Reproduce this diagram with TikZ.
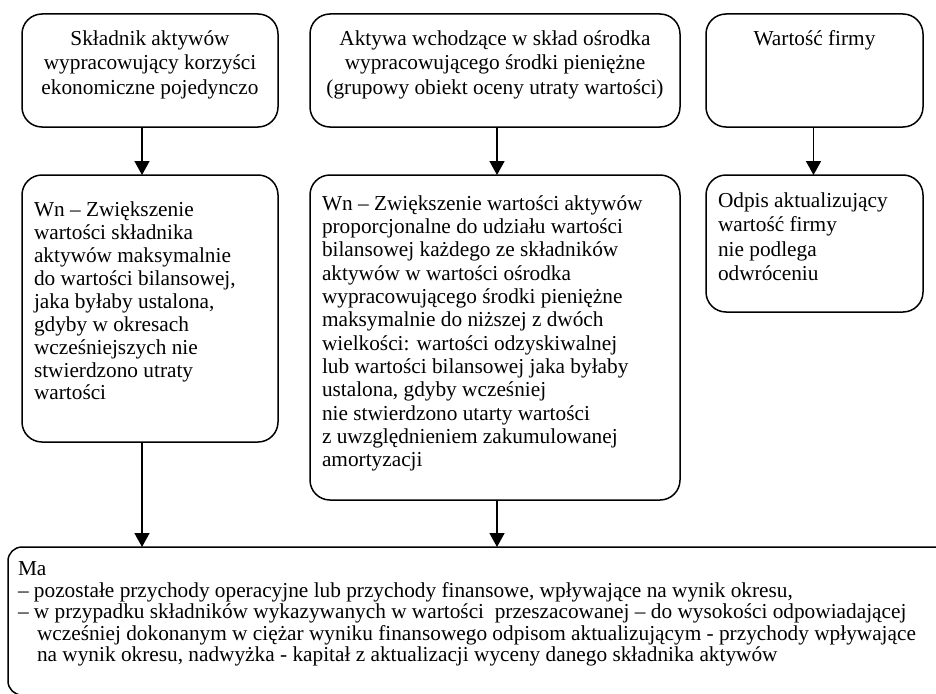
\documentclass[tikz,border=0pt]{standalone}
\usepackage{fontspec}
\setmainfont{Liberation Serif}
\usetikzlibrary{arrows.meta}

\tikzset{
  blok/.style={draw, line width=1.5pt, rounded corners=20pt, anchor=north west,
    inner xsep=12pt, inner ysep=0pt, outer sep=0pt,
    font=\fontsize{21.3}{24.5}\selectfont},
  strzalka/.style={line width=1.6pt, -{Triangle[length=14pt,width=15pt]}}
}

\begin{document}
\begin{tikzpicture}[x=1pt, y=-1pt]
            \useasboundingbox (0,0) rectangle (936,693);
            \clip (0,0) rectangle (936,693);

            % gorny rzad
            \node [blok] (skladnik) at (22, 14)
                {\parbox[t][113pt][t]{232pt}{\vspace*{16.5pt}\centering
                 Składnik aktywów\\ wypracowujący korzyści\\ ekonomiczne pojedynczo}};
            \node [blok] (osrodek) at (310, 14)
                {\parbox[t][113pt][t]{346pt}{\vspace*{16.5pt}\centering
                 Aktywa wchodzące w skład ośrodka\\ wypracowującego środki pieniężne\\
                 (grupowy obiekt oceny utraty wartości)}};
            \node [blok] (firma) at (706, 14)
                {\parbox[t][113pt][t]{193pt}{\vspace*{16.5pt}\centering Wartość firmy}};

            % srodkowy rzad
            \node [blok, font=\fontsize{21.3}{22.9}\selectfont] (wnA) at (22, 175)
                {\parbox[t][267pt][t]{232pt}{\vspace*{27pt}\raggedright
                 Wn – Zwiększenie\\ wartości składnika\\ aktywów maksymalnie\\
                 do wartości bilansowej,\\ jaka byłaby ustalona,\\ gdyby w okresach\\
                 wcześniejszych nie\\ stwierdzono utraty\\ wartości}};
            \node [blok, font=\fontsize{21.3}{23.3}\selectfont] (wnB) at (310, 175)
                {\parbox[t][325pt][t]{346pt}{\vspace*{20.5pt}\raggedright
                 Wn – Zwiększenie wartości aktywów\\ proporcjonalne do udziału wartości\\
                 bilansowej każdego ze składników\\ aktywów w wartości ośrodka\\
                 wypracowującego środki pieniężne\\ maksymalnie do niższej z dwóch\\
                 wielkości: wartości odzyskiwalnej\\ lub wartości bilansowej jaka byłaby\\
                 ustalona, gdyby wcześniej\\ nie stwierdzono utarty wartości\\
                 z uwzględnieniem zakumulowanej\\ amortyzacji}};
            \node [blok, font=\fontsize{21.3}{24.4}\selectfont] (odpis) at (706, 175)
                {\parbox[t][137pt][t]{193pt}{\vspace*{17.5pt}\raggedright
                 Odpis aktualizujący\\ wartość firmy\\ nie podlega\\ odwróceniu}};

            % dolny blok
            \node [blok, rounded corners=14pt, inner xsep=10pt,
                   font=\fontsize{21.3}{21.6}\selectfont] (ma) at (8, 547)
                {\parbox[t][148pt][t]{922pt}{\vspace*{14.5pt}\raggedright
                 Ma\\
                 – pozostałe przychody operacyjne lub przychody finansowe, wpływające na wynik okresu,\\
                 – w przypadku składników wykazywanych w wartości\ \ przeszacowanej – do wysokości odpowiadającej\\
                 \hspace*{19pt}wcześniej dokonanym w ciężar wyniku finansowego odpisom aktualizującym - przychody wpływające\\
                 \hspace*{19pt}na wynik okresu, nadwyżka - kapitał z aktualizacji wyceny danego składnika aktywów}};

            \draw [strzalka] ([xshift=-8pt]skladnik.south) -- ([xshift=-8pt]wnA.north);
            \draw [strzalka] ([xshift=2pt]osrodek.south) -- ([xshift=2pt]wnB.north);
            \draw [strzalka] ([xshift=-1pt]firma.south) -- ([xshift=-1pt]odpis.north);
            \draw [strzalka] ([xshift=-8pt]wnA.south) -- ([xshift=-8pt]wnA.south |- ma.north);
            \draw [strzalka] ([xshift=2pt]wnB.south) -- ([xshift=2pt]wnB.south |- ma.north);
\end{tikzpicture}
\end{document}
